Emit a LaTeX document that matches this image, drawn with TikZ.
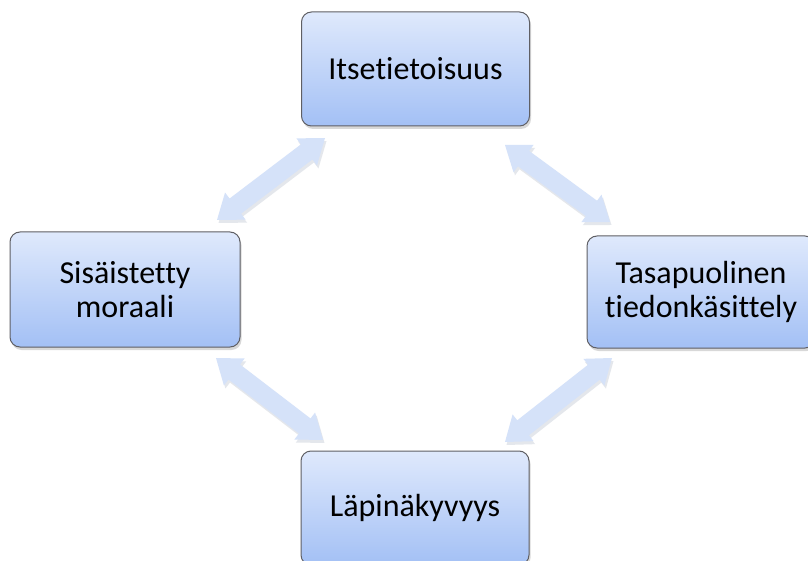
\documentclass[tikz,border=0pt]{standalone}
\usepackage{fontspec}
\setmainfont{Carlito}[Ligatures={NoCommon}]
\usetikzlibrary{calc,shadows}
\definecolor{boxtop}{RGB}{223,233,252}
\definecolor{boxbot}{RGB}{163,192,245}
\definecolor{boxline}{RGB}{95,95,100}
\definecolor{arrfill}{RGB}{213,226,249}
\definecolor{arrshade}{RGB}{150,160,180}
\newcommand\dblarrow[2]{%
  \path let \p1=($(#2)-(#1)$) in \pgfextra{%
    \pgfmathsetmacro\tmpang{atan2(\y1,\x1)}%
    \pgfmathsetlengthmacro\tmplen{veclen(\x1,\y1)}%
    \xdef\arrang{\tmpang}\xdef\arrlen{\tmplen}};
  \begin{scope}[shift={($(#1)+(1.5pt,-3pt)$)},rotate=\arrang]
    \fill[arrshade,opacity=0.25] (0pt,0pt) -- (23pt,17pt) -- (23pt,9.5pt) -- (\arrlen-23pt,9.5pt) -- (\arrlen-23pt,17pt) -- (\arrlen,0pt) -- (\arrlen-23pt,-17pt) -- (\arrlen-23pt,-9.5pt) -- (23pt,-9.5pt) -- (23pt,-17pt) -- cycle;
  \end{scope}
  \begin{scope}[shift={(#1)},rotate=\arrang]
    \fill[arrfill] (0pt,0pt) -- (23pt,17pt) -- (23pt,9.5pt) -- (\arrlen-23pt,9.5pt) -- (\arrlen-23pt,17pt) -- (\arrlen,0pt) -- (\arrlen-23pt,-17pt) -- (\arrlen-23pt,-9.5pt) -- (23pt,-9.5pt) -- (23pt,-17pt) -- cycle;
  \end{scope}}
\begin{document}
\begin{tikzpicture}[x=1pt,y=-1pt,
  box/.style={rectangle, rounded corners=10pt, draw=boxline, line width=1pt,
    top color=boxtop, bottom color=boxbot,
    minimum width=228pt, minimum height=114pt, inner sep=0pt,
    align=center, text=black, font=\fontsize{32}{34}\selectfont,
    drop shadow={shadow xshift=1.5pt, shadow yshift=-3pt, opacity=0.3}}]
\useasboundingbox (0,0) rectangle (808,561);
\fill[white] (0,0) rectangle (808,561);
% arrows
\coordinate (a1s) at (217,220); \coordinate (a1e) at (325,138);
\coordinate (a2s) at (505,145); \coordinate (a2e) at (610,222);
\coordinate (a3s) at (612,358); \coordinate (a3e) at (505,442);
\coordinate (a4s) at (216,358); \coordinate (a4e) at (323,440);
\dblarrow{a1s}{a1e}
\dblarrow{a2s}{a2e}
\dblarrow{a3s}{a3e}
\dblarrow{a4s}{a4e}
% boxes
\node[box] (top) at (415.5,69) {Itsetietoisuus};
\node[box, minimum width=230pt, minimum height=115pt] (left) at (125,289.5) {Sisäistetty\\moraali};
\node[box, minimum height=112pt] (right) at (701,292) {Tasapuolinen\\tiedonkäsittely};
\node[box] (bottom) at (415,508) {Läpinäkyvyys};
\end{tikzpicture}
\end{document}
